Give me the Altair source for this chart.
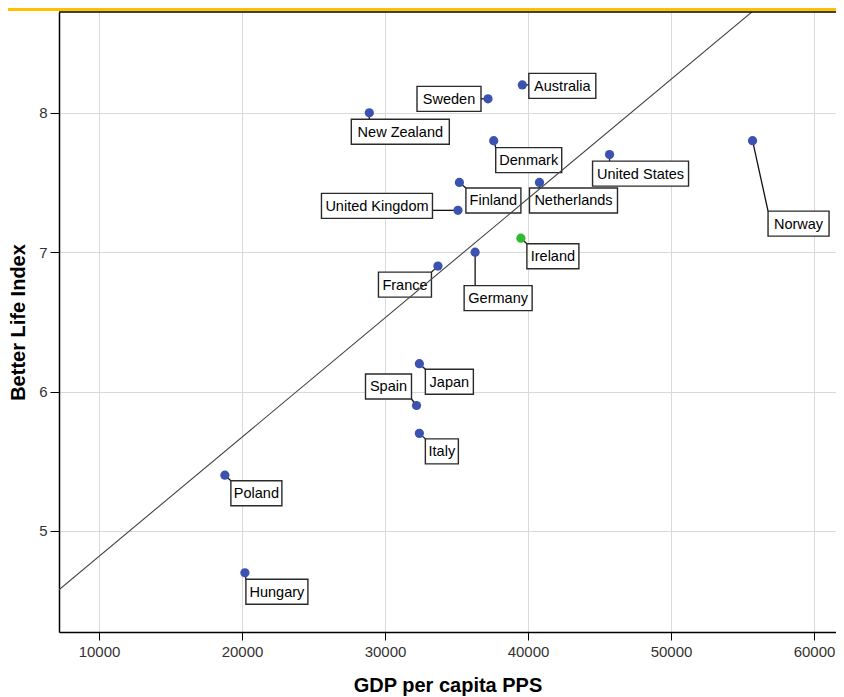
import altair as alt
import pandas as pd

# ---------------- data ----------------
countries = ["Australia", "Sweden", "New Zealand", "Denmark", "United States", "Norway",
             "Finland", "Netherlands", "United Kingdom", "Ireland", "Germany", "France",
             "Japan", "Spain", "Italy", "Poland", "Hungary"]
gdp = [39600, 37200, 28900, 37600, 45700, 55700, 35200, 40800, 35100, 39500, 36300, 33700,
       32400, 32200, 32400, 18800, 20200]
bli = [8.2, 8.1, 8.0, 7.8, 7.7, 7.8, 7.5, 7.5, 7.3, 7.1, 7.0, 6.9, 6.2, 5.9, 5.7, 5.4, 4.7]
highlight = ["Ireland"]

x_ticks = [10000, 20000, 30000, 40000, 50000, 60000]
y_ticks = [5, 6, 7, 8]

# ---------------- layout (pixels) ----------------
W, H = 777, 620
X0 = 7200
X1 = X0 + W * 69.93
Y0, Y1 = 4.275, 8.723
BOX_H = 25
# label box centre offset from the point (dx, dy) and box width
label_layout = {
    "Australia": (40, 1, 67), "Sweden": (-39, 0, 64), "New Zealand": (31, 19, 98),
    "Denmark": (35, 19.5, 66), "United States": (31, 19, 96), "Norway": (46, 83, 61),
    "Finland": (34, 18, 55), "Netherlands": (34, 18, 88), "United Kingdom": (-81, -4.5, 111),
    "Ireland": (32, 18, 52), "Germany": (23, 46, 68), "France": (-33, 18.5, 53),
    "Japan": (30, 18, 48), "Spain": (-28, -19, 46), "Italy": (22.5, 18, 33),
    "Poland": (31.5, 18, 51), "Hungary": (32, 19, 62),
}


def to_px(v):
    return (v - X0) / (X1 - X0) * W


def to_py(v):
    return (Y1 - v) / (Y1 - Y0) * H


def from_px(p):
    return X0 + p / W * (X1 - X0)


def from_py(p):
    return Y1 - p / H * (Y1 - Y0)


def clamp(v, lo, hi):
    return max(lo, min(hi, v))


rows = []
for c, g, b in zip(countries, gdp, bli):
    dx, dy, w = label_layout[c]
    ppx, ppy = to_px(g), to_py(b)
    cx, cy = ppx + dx, ppy + dy
    bx0, bx1 = cx - w / 2, cx + w / 2
    by0, by1 = cy - BOX_H / 2, cy + BOX_H / 2
    nx, ny = clamp(ppx, bx0, bx1), clamp(ppy, by0, by1)
    rows.append({
        "country": c, "gdp": g, "bli": b,
        "group": "hi" if c in highlight else "base",
        "tx": from_px(cx), "ty": from_py(cy + 1),
        "bx0": from_px(bx0), "bx1": from_px(bx1),
        "by0": from_py(by0), "by1": from_py(by1),
        "lx": from_px(nx), "ly": from_py(ny),
    })
df = pd.DataFrame(rows)

FONT = "Liberation Sans"
xscale = alt.Scale(domain=[X0, X1], nice=False, zero=False)
yscale = alt.Scale(domain=[Y0, Y1], nice=False, zero=False)

xaxis = alt.Axis(values=x_ticks, format="d", title="GDP per capita PPS", grid=True,
                 gridColor="#d9d9d9", gridWidth=1, tickSize=8, tickColor="#000",
                 domainColor="#000", domainWidth=1.5, labelFont=FONT, labelFontSize=15,
                 labelColor="#333", labelPadding=4, titleFont=FONT, titleFontSize=20,
                 titleFontWeight="bold", titleColor="#000", titleY=59,
                 titleBaseline="alphabetic")
yaxis = alt.Axis(values=y_ticks, title="Better Life Index", grid=True,
                 gridColor="#d9d9d9", gridWidth=1, tickSize=9, tickColor="#000",
                 domainColor="#000", domainWidth=1.5, labelFont=FONT, labelFontSize=15,
                 labelColor="#333", labelPadding=3, titleFont=FONT, titleFontSize=20,
                 titleFontWeight="bold", titleColor="#000", titleX=-41,
                 titleBaseline="middle")


def X(field):
    return alt.X(field, scale=xscale, axis=xaxis)


def Y(field):
    return alt.Y(field, scale=yscale, axis=yaxis)


base = alt.Chart(df)

leaders = base.mark_rule(color="#111", strokeWidth=1.3).encode(
    x=X("gdp:Q"), y=Y("bli:Q"), x2="lx:Q", y2="ly:Q",
)

boxes = base.mark_rect(fill="white", stroke="#2a2a2a", strokeWidth=1.4).encode(
    x=X("bx0:Q"), x2="bx1:Q", y=Y("by0:Q"), y2="by1:Q",
)

texts = base.mark_text(font=FONT, fontSize=14.5, color="#000", align="center",
                       baseline="middle").encode(
    x=X("tx:Q"), y=Y("ty:Q"), text="country:N",
)

fit = base.transform_regression("gdp", "bli", extent=[X0 - 2000, X1 + 2000]).mark_line(
    color="#444", strokeWidth=1.1, clip=True).encode(
    x=X("gdp:Q"), y=Y("bli:Q"),
)

points = base.mark_circle(size=85, opacity=1).encode(
    x=X("gdp:Q"), y=Y("bli:Q"),
    color=alt.Color("group:N", scale=alt.Scale(domain=["base", "hi"],
                                               range=["#3c52b0", "#2fba2f"]), legend=None),
)

deco = alt.Chart(pd.DataFrame({"k": [0]}))
top_border = deco.mark_rule(color="#000", strokeWidth=1.5).encode(
    x=alt.value(0), x2=alt.value(W), y=alt.value(0))
orange = deco.mark_rect(color="#FFC000").encode(
    x=alt.value(-51), x2=alt.value(W), y=alt.value(-4), y2=alt.value(-1))

chart = alt.layer(leaders, boxes, texts, fit, points, top_border, orange).properties(
    width=W, height=H,
    padding={"left": 51, "top": 4, "right": 0, "bottom": 66},
    autosize=alt.AutoSizeParams(type="none"),
).configure_view(stroke=None)

chart.save("out.html", embed_options={"renderer": "svg", "actions": False})
